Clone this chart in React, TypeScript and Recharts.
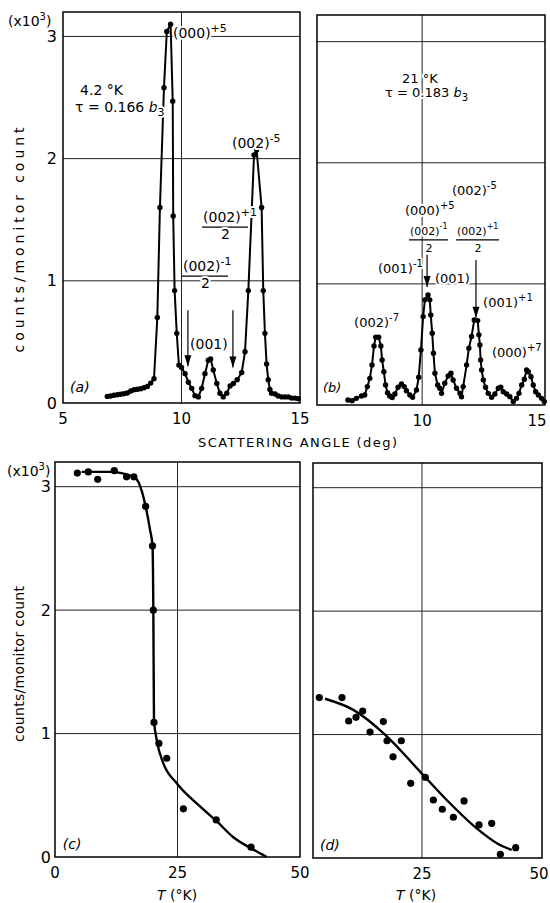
import React from "react";
import {
  ComposedChart,
  Line,
  Scatter,
  XAxis,
  YAxis,
  CartesianGrid,
  ReferenceArea,
  ReferenceLine,
  ReferenceDot,
} from "recharts";

const FONT = "'DejaVu Sans', sans-serif";

// (a) angular scan at 4.2 K, counts/monitor count in units of 10^3
const anglesA = [
  6.87, 7.01, 7.15, 7.29, 7.43, 7.57, 7.71, 7.86, 8.0, 8.14, 8.28, 8.42, 8.56, 8.7, 8.84,
  8.98, 9.09, 9.26, 9.38, 9.54, 9.63, 9.65, 9.71, 9.8, 9.89, 10.0, 10.15, 10.29, 10.43,
  10.57, 10.71, 10.85, 10.99, 11.13, 11.23, 11.34, 11.49, 11.62, 11.76, 11.91, 12.05,
  12.19, 12.35, 12.54, 12.68, 12.82, 12.96, 13.06, 13.17, 13.38, 13.45, 13.52, 13.59,
  13.66, 13.73, 13.8, 13.95, 14.08, 14.23, 14.37, 14.51, 14.65, 14.79, 14.93,
];
const countsA = [
  0.054, 0.057, 0.063, 0.068, 0.071, 0.076, 0.082, 0.098, 0.109, 0.112, 0.117, 0.125, 0.136,
  0.163, 0.199, 0.7, 1.6, 2.58, 3.04, 3.1, 2.47, 1.53, 0.92, 0.57, 0.31, 0.29, 0.24, 0.17,
  0.12, 0.06, 0.05, 0.12, 0.24, 0.35, 0.36, 0.27, 0.16, 0.08, 0.05, 0.08, 0.14, 0.16, 0.19,
  0.25, 0.42, 0.92, 1.56, 2.03, 2.07, 1.6, 0.92, 0.57, 0.32, 0.19, 0.11, 0.08, 0.074, 0.057,
  0.05, 0.05, 0.05, 0.04, 0.04, 0.035,
];

// (b) angular scan at 21 K
const anglesB = [
  6.98, 7.15, 7.32, 7.53, 7.66, 7.77, 7.87, 7.96, 8.04, 8.11, 8.23, 8.32, 8.37, 8.44, 8.51,
  8.59, 8.68, 8.78, 8.89, 9.02, 9.16, 9.27, 9.36, 9.5, 9.61, 9.77, 9.86, 9.95, 10.04, 10.11,
  10.24, 10.31, 10.35, 10.41, 10.46, 10.52, 10.63, 10.72, 10.79, 10.92, 11.06, 11.17, 11.26,
  11.4, 11.54, 11.6, 11.67, 11.81, 11.9, 12.01, 12.12, 12.26, 12.31, 12.35, 12.38, 12.42,
  12.49, 12.58, 12.69, 12.83, 12.96, 13.1, 13.2, 13.3, 13.44, 13.57, 13.71, 13.84, 13.94,
  14.05, 14.16, 14.25, 14.32, 14.43, 14.52, 14.62, 14.73, 14.86, 14.97,
];
const countsB = [
  0.041, 0.036, 0.055, 0.074, 0.083, 0.152, 0.22, 0.331, 0.488, 0.559, 0.559, 0.488, 0.372,
  0.275, 0.165, 0.102, 0.074, 0.061, 0.091, 0.146, 0.174, 0.152, 0.118, 0.083, 0.063, 0.124,
  0.229, 0.455, 0.73, 0.868, 0.909, 0.868, 0.744, 0.592, 0.427, 0.262, 0.165, 0.138, 0.096,
  0.179, 0.24, 0.262, 0.207, 0.138, 0.096, 0.069, 0.152, 0.331, 0.468, 0.565, 0.702, 0.697,
  0.579, 0.496, 0.372, 0.289, 0.207, 0.146, 0.096, 0.063, 0.091, 0.138, 0.146, 0.11, 0.091,
  0.069, 0.028, 0.055, 0.096, 0.165, 0.212, 0.289, 0.275, 0.234, 0.165, 0.11, 0.083, 0.055,
  0.028,
];

// (c) temperature dependence, measured points and drawn curve
const tempsC = [4.56, 6.8, 8.71, 12.1, 14.6, 16.1, 18.5, 19.9, 20.07, 20.2, 21.2, 22.8, 26.2, 32.9, 40.0];
const countsC = [3.11, 3.12, 3.06, 3.13, 3.08, 3.08, 2.84, 2.52, 2.0, 1.09, 0.92, 0.8, 0.39, 0.3, 0.08];
const curveTempsC = [5.44, 11.2, 16.0, 17.0, 18.5, 19.4, 19.9, 20.07, 20.2, 20.75, 22.1, 24.8, 29.6, 33.0, 36.4, 40.5, 43.2];
const curveCountsC = [3.12, 3.12, 3.08, 3.04, 2.84, 2.65, 2.52, 2.0, 1.11, 0.95, 0.76, 0.6, 0.41, 0.29, 0.16, 0.06, 0.0];

// (d) temperature dependence, second reflection
const tempsD = [
  3.61, 8.34, 9.73, 11.26, 12.65, 14.18, 16.95, 17.72, 18.97, 20.7, 22.65, 25.7, 27.37,
  29.24, 31.54, 33.76, 36.88, 39.52, 41.33, 44.52,
];
const countsD = [
  1.3, 1.3, 1.11, 1.14, 1.19, 1.02, 1.105, 0.95, 0.82, 0.95, 0.605, 0.654, 0.47, 0.395, 0.33,
  0.462, 0.268, 0.281, 0.03, 0.084,
];
const curveTempsD = [4.8, 10.7, 17.3, 24.6, 30.15, 36.4, 40.6, 43.7];
const curveCountsD = [1.29, 1.2, 1.0, 0.7, 0.47, 0.24, 0.12, 0.065];

const yTicks = [0, 1, 2, 3];
const angleTicksA = [5, 10, 15];
const angleTicksB = [10, 15];
const tempTicksC = [0, 25, 50];
const tempTicksD = [25, 50];

type Note = {
  x: number;
  y: number;
  text: string;
  sup?: string;
  it?: string;
  sub?: string;
  frac?: number;
  small?: boolean;
  italic?: boolean;
};

const notesA: Note[] = [
  { x: 9.64, y: 2.99, text: "(000)", sup: "+5" },
  { x: 5.72, y: 2.52, text: "4.2 °K" },
  { x: 5.51, y: 2.38, text: "τ = 0.166 ", it: "b", sub: "3" },
  { x: 12.13, y: 2.09, text: "(002)", sup: "-5" },
  { x: 10.91, y: 1.48, text: "(002)", sup: "+1", frac: 45 },
  { x: 10.06, y: 1.08, text: "(002)", sup: "-1", frac: 45 },
  { x: 10.36, y: 0.44, text: "(001)" },
  { x: 5.3, y: 0.09, text: "(a)", italic: true },
];
const arrowsA = [
  { x: 10.27, from: 0.76, to: 0.3 },
  { x: 12.17, from: 0.76, to: 0.29 },
];

const notesB: Note[] = [
  { x: 9.18, y: 2.66, text: "21 °K" },
  { x: 8.49, y: 2.54, text: "τ = 0.183 ", it: "b", sub: "3" },
  { x: 11.21, y: 1.734, text: "(002)", sup: "-5" },
  { x: 9.3, y: 1.569, text: "(000)", sup: "+5" },
  { x: 9.505, y: 1.404, text: "(002)", sup: "-1", frac: 38, small: true },
  { x: 11.42, y: 1.404, text: "(002)", sup: "+1", frac: 42, small: true },
  { x: 8.2, y: 1.09, text: "(001)", sup: "-1" },
  { x: 10.52, y: 1.007, text: "(001)" },
  { x: 12.48, y: 0.81, text: "(001)", sup: "+1" },
  { x: 7.23, y: 0.64, text: "(002)", sup: "-7" },
  { x: 12.84, y: 0.4, text: "(000)", sup: "+7" },
  { x: 5.96, y: 0.11, text: "(b)", italic: true },
];
const arrowsB = [
  { x: 10.2, from: 1.24, to: 0.974 },
  { x: 12.19, from: 1.197, to: 0.72 },
];

const notesC: Note[] = [{ x: 1.6, y: 0.065, text: "(c)", italic: true }];
const notesD: Note[] = [{ x: 3.76, y: 0.065, text: "(d)", italic: true }];

const pair = (xs: number[], ys: number[]) => xs.map((x, i) => ({ x, y: ys[i] }));

const scanA = pair(anglesA, countsA);
const scanB = pair(anglesB, countsB);
const pointsC = pair(tempsC, countsC);
const curveC = pair(curveTempsC, curveCountsC);
const pointsD = pair(tempsD, countsD);
const curveD = pair(curveTempsD, curveCountsD);

const halo = { stroke: "#fff", strokeWidth: 4, paintOrder: "stroke" as const, strokeLinejoin: "round" as const };

const noteShape = (n: Note, size: number) => (p: any) => {
  const { cx, cy } = p;
  const sz = n.small ? 11 : size;
  return (
    <g>
      <text x={cx} y={cy} fontSize={sz} fontFamily={FONT} fill="#000"
        fontStyle={n.italic ? "italic" : undefined} style={halo}>
        {n.text}
        {n.it && <tspan fontStyle="italic">{n.it}</tspan>}
        {n.sub && <tspan dy={4} fontSize={sz - 3}>{n.sub}</tspan>}
        {n.sup && <tspan dy={-6} fontSize={sz - 3}>{n.sup}</tspan>}
      </text>
      {n.frac && (
        <g>
          <line x1={cx - 1} x2={cx + n.frac} y1={cy + 5} y2={cy + 5} stroke="#000" strokeWidth={1.2} />
          <text x={cx + n.frac / 2} y={cy + 17} textAnchor="middle" fontSize={sz}
            fontFamily={FONT} fill="#000" style={halo}>
            2
          </text>
        </g>
      )}
    </g>
  );
};

const arrowHead = (p: any) => (
  <path d={`M${p.cx - 3.5},${p.cy - 11} L${p.cx + 3.5},${p.cy - 11} L${p.cx},${p.cy} Z`} fill="#000" />
);

// bottom tick whose last label is nudged left so it stays inside the page
const edgeTick = (last: number, shift: number) => (p: any) => (
  <text x={p.x} y={p.y} dy="0.71em" dx={p.payload.value === last ? shift : 0} textAnchor="middle"
    fontSize={15} fontFamily={FONT} fill="#000">
    {p.payload.value}
  </text>
);

const tickStyle = { fontSize: 15, fill: "#000", fontFamily: FONT };
const yTickStyle = { fontSize: 16, fill: "#000", fontFamily: FONT };

const dotStyle = { r: 2.7, fill: "#000", stroke: "none" };
const bigDot = (p: any) => <circle cx={p.cx} cy={p.cy} r={3.6} fill="#000" />;

function renderNotes(notes: Note[], size: number) {
  return notes.map((n, i) => (
    <ReferenceDot key={"n" + i} x={n.x} y={n.y} r={0} shape={noteShape(n, size)} ifOverflow="visible" />
  ));
}

function renderArrows(arrows: { x: number; from: number; to: number }[]) {
  return arrows.flatMap((a, i) => [
    <ReferenceLine key={"s" + i} segment={[{ x: a.x, y: a.from }, { x: a.x, y: a.to }]}
      stroke="#000" strokeWidth={1.2} />,
    <ReferenceDot key={"h" + i} x={a.x} y={a.to} r={0} shape={arrowHead} />,
  ]);
}

export default function App() {
  return (
    <div style={{ position: "absolute", left: 0, top: 0, width: 550, height: 903, background: "#fff" }}>
      {/* (a) */}
      <div style={{ position: "absolute", left: 0, top: 0 }}>
        <ComposedChart width={310} height={430} margin={{ top: 12, right: 10, bottom: 0, left: 0 }}>
          <CartesianGrid stroke="#222" horizontalValues={[1, 2, 3]} verticalValues={[10]} />
          <XAxis type="number" dataKey="x" domain={[5, 15]} ticks={angleTicksA} height={27}
            axisLine={false} tickLine={false} tick={tickStyle} tickMargin={4} />
          <YAxis type="number" dataKey="y" domain={[0, 3.2]} ticks={yTicks} width={63}
            axisLine={false} tickLine={false} tick={yTickStyle} tickSize={2} tickMargin={4} />
          <ReferenceArea x1={5} x2={15} y1={0} y2={3.2} fill="none" stroke="#000" strokeWidth={1.5} />
          <Line data={scanA} dataKey="y" type="linear" stroke="#000" strokeWidth={2}
            dot={dotStyle} isAnimationActive={false} />
          {renderArrows(arrowsA)}
          {renderNotes(notesA, 14)}
        </ComposedChart>
      </div>

      {/* (b) */}
      <div style={{ position: "absolute", left: 300, top: 0 }}>
        <ComposedChart width={250} height={430} margin={{ top: 15, right: 5, bottom: 0, left: 17 }}>
          <CartesianGrid stroke="#222" horizontalValues={[1, 2, 3]} verticalValues={[10]} />
          <XAxis type="number" dataKey="x" domain={[5.72, 15]} ticks={angleTicksB} height={25}
            axisLine={false} tickLine={false} tick={edgeTick(15, -5)} tickMargin={4} />
          <YAxis type="number" dataKey="y" domain={[0, 3.22]} ticks={yTicks} hide />
          <ReferenceArea x1={5.72} x2={15} y1={0} y2={3.22} fill="none" stroke="#000" strokeWidth={1.5} />
          <Line data={scanB} dataKey="y" type="linear" stroke="#000" strokeWidth={2}
            dot={dotStyle} isAnimationActive={false} />
          {renderArrows(arrowsB)}
          {renderNotes(notesB, 13)}
        </ComposedChart>
      </div>

      {/* (c) */}
      <div style={{ position: "absolute", left: 0, top: 440 }}>
        <ComposedChart width={310} height={444} margin={{ top: 22, right: 10, bottom: 0, left: 0 }}>
          <CartesianGrid stroke="#222" horizontalValues={[1, 2, 3]} verticalValues={[25]} />
          <XAxis type="number" dataKey="x" domain={[0, 50]} ticks={tempTicksC} height={27}
            axisLine={false} tickLine={false} tick={tickStyle} tickMargin={4} />
          <YAxis type="number" dataKey="y" domain={[0, 3.2]} ticks={yTicks} width={55}
            axisLine={false} tickLine={false} tick={yTickStyle} tickSize={2} tickMargin={2} />
          <ReferenceArea x1={0} x2={50} y1={0} y2={3.2} fill="none" stroke="#000" strokeWidth={1.5} />
          <Line data={curveC} dataKey="y" type="monotone" stroke="#000" strokeWidth={2.4}
            dot={false} isAnimationActive={false} />
          <Scatter data={pointsC} dataKey="y" shape={bigDot} isAnimationActive={false} />
          {renderNotes(notesC, 14)}
        </ComposedChart>
      </div>

      {/* (d) */}
      <div style={{ position: "absolute", left: 300, top: 440 }}>
        <ComposedChart width={250} height={445} margin={{ top: 23, right: 8, bottom: 0, left: 13 }}>
          <CartesianGrid stroke="#222" horizontalValues={[1, 2, 3]} verticalValues={[25]} />
          <XAxis type="number" dataKey="x" domain={[2.3, 50]} ticks={tempTicksD} height={27}
            axisLine={false} tickLine={false} tick={edgeTick(50, -3)} tickMargin={4} />
          <YAxis type="number" dataKey="y" domain={[0, 3.2]} ticks={yTicks} hide />
          <ReferenceArea x1={2.3} x2={50} y1={0} y2={3.2} fill="none" stroke="#000" strokeWidth={1.5} />
          <Line data={curveD} dataKey="y" type="monotone" stroke="#000" strokeWidth={2.4}
            dot={false} isAnimationActive={false} />
          <Scatter data={pointsD} dataKey="y" shape={bigDot} isAnimationActive={false} />
          {renderNotes(notesD, 14)}
        </ComposedChart>
      </div>

      {/* axis titles */}
      <svg width={550} height={903} style={{ position: "absolute", left: 0, top: 0, pointerEvents: "none" }}
        fontFamily={FONT} fill="#000">
        <text x={8} y={26} fontSize={14}>
          (x10<tspan dy={-6} fontSize={10}>3</tspan><tspan dy={6}>)</tspan>
        </text>
        <text x={7} y={476} fontSize={14}>
          (x10<tspan dy={-6} fontSize={10}>3</tspan><tspan dy={6}>)</tspan>
        </text>
        <text transform="translate(24,240) rotate(-90)" textAnchor="middle" fontSize={14}
          textLength={225} lengthAdjust="spacing">
          counts/monitor count
        </text>
        <text transform="translate(24,664) rotate(-90)" textAnchor="middle" fontSize={14}
          textLength={156} lengthAdjust="spacing">
          counts/monitor count
        </text>
        <text x={198} y={447} fontSize={13} textLength={199} lengthAdjust="spacing">
          SCATTERING ANGLE (deg)
        </text>
        <text x={157} y={900} fontSize={14}>
          <tspan fontStyle="italic">T</tspan> (°K)
        </text>
        <text x={396} y={900} fontSize={14}>
          <tspan fontStyle="italic">T</tspan> (°K)
        </text>
      </svg>
    </div>
  );
}
